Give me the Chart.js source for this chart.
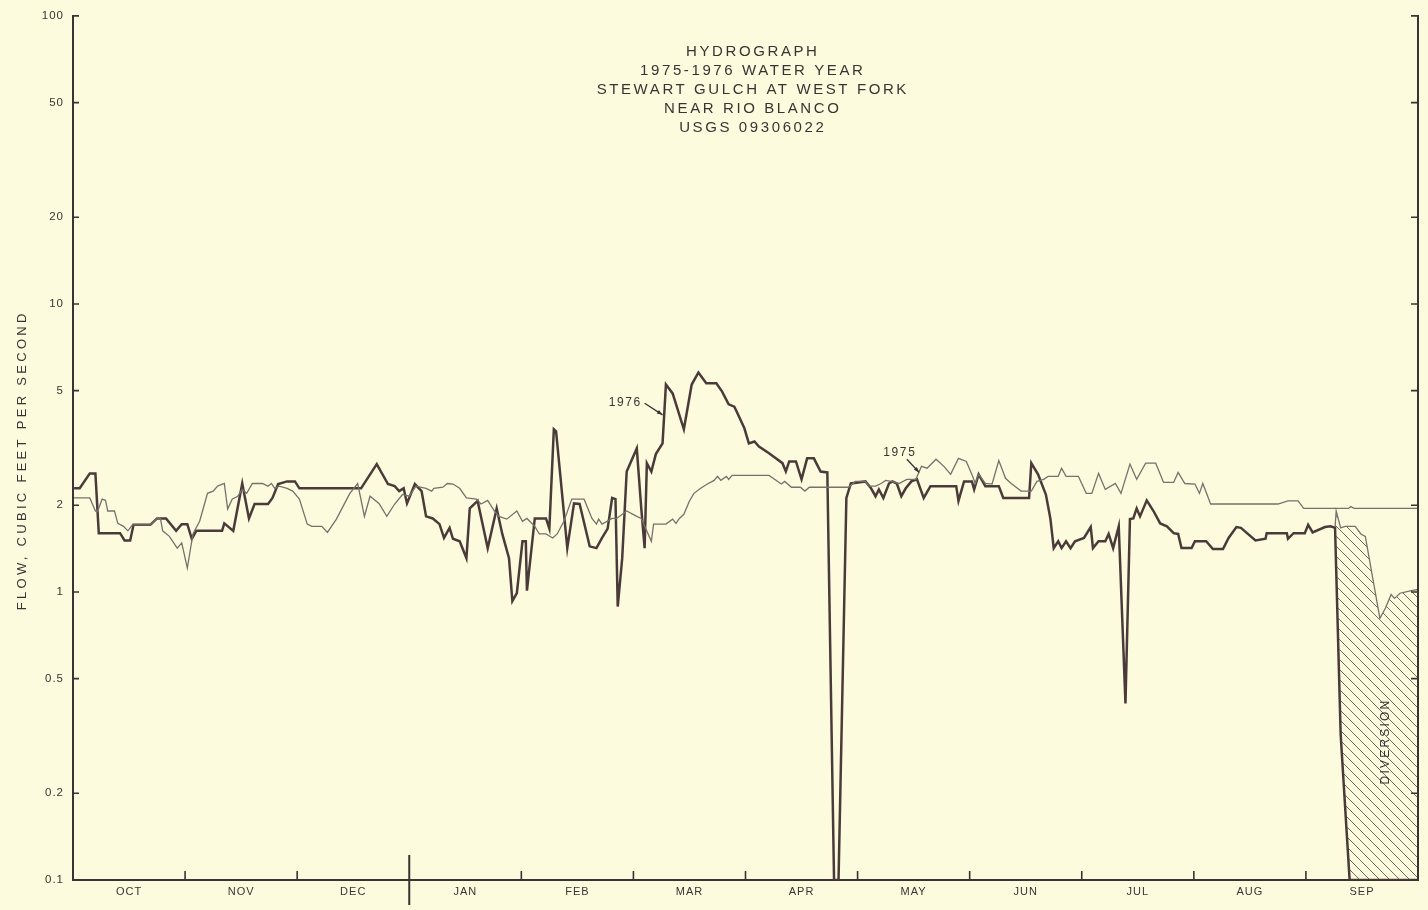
<!DOCTYPE html>
<html>

<head>
    <style>
        html, body { margin: 0; padding: 0; background: #fcfbdd; }
        #container { width: 1428px; height: 910px; }
    </style>
    <title>Hydrograph Stewart Gulch</title>
</head>

<body>
    <div id="container">
        <canvas id="canvas" width="1428" height="910"></canvas>
    </div>
    <script src="https://cdn.jsdelivr.net/npm/chart.js@4/dist/chart.umd.min.js"></script>
    <script type="text/javascript">
        // x is the position in the water year, in months from 1 October (months drawn equal width)
        var months = ['OCT', 'NOV', 'DEC', 'JAN', 'FEB', 'MAR', 'APR', 'MAY', 'JUN', 'JUL', 'AUG', 'SEP'];
        var yTicks = [0.1, 0.2, 0.5, 1, 2, 5, 10, 20, 50, 100];
        var titleLines = ['HYDROGRAPH', '1975-1976 WATER YEAR', 'STEWART GULCH AT WEST FORK', 'NEAR RIO BLANCO', 'USGS 09306022'];
        var yTitle = 'FLOW, CUBIC FEET PER SECOND';

        var flow1976 = [
            [0.01, 2.29], [0.06, 2.29], [0.15, 2.58], [0.20, 2.58], [0.23, 1.6], [0.42, 1.6], [0.46, 1.51], [0.51, 1.51],
            [0.54, 1.71], [0.69, 1.71], [0.75, 1.8], [0.83, 1.8], [0.92, 1.63], [0.97, 1.72], [1.02, 1.72], [1.06, 1.53],
            [1.10, 1.63], [1.33, 1.63], [1.35, 1.73], [1.43, 1.63], [1.51, 2.38], [1.57, 1.8], [1.62, 2.02], [1.74, 2.02],
            [1.78, 2.12], [1.83, 2.37], [1.91, 2.42], [1.98, 2.42], [2.02, 2.29], [2.57, 2.29], [2.71, 2.78], [2.81, 2.37],
            [2.87, 2.33], [2.91, 2.24], [2.95, 2.29], [2.98, 2.03], [3.05, 2.37], [3.11, 2.24], [3.15, 1.83], [3.21, 1.80],
            [3.27, 1.72], [3.31, 1.54], [3.36, 1.67], [3.39, 1.53], [3.45, 1.50], [3.51, 1.31], [3.54, 1.95], [3.61, 2.07],
            [3.70, 1.42], [3.78, 1.95], [3.83, 1.59], [3.89, 1.31], [3.92, 0.93], [3.96, 0.99], [4.01, 1.50], [4.04, 1.50],
            [4.05, 1.01], [4.12, 1.80], [4.22, 1.80], [4.25, 1.66], [4.29, 3.67], [4.31, 3.61], [4.41, 1.42], [4.47, 2.03],
            [4.52, 2.02], [4.61, 1.44], [4.67, 1.42], [4.72, 1.54], [4.77, 1.66], [4.81, 2.12], [4.84, 2.10], [4.86, 0.89],
            [4.90, 1.31], [4.94, 2.62], [5.03, 3.15], [5.07, 1.95], [5.10, 1.42], [5.12, 2.80], [5.16, 2.62], [5.20, 3.01],
            [5.26, 3.28], [5.29, 5.25], [5.35, 4.89], [5.45, 3.67], [5.52, 5.25], [5.58, 5.78], [5.65, 5.30], [5.74, 5.30],
            [5.79, 4.97], [5.85, 4.48], [5.90, 4.40], [5.92, 4.24], [5.99, 3.70], [6.03, 3.28], [6.08, 3.33], [6.12, 3.20],
            [6.21, 3.03], [6.33, 2.80], [6.36, 2.62], [6.39, 2.84], [6.45, 2.84], [6.50, 2.46], [6.55, 2.91], [6.61, 2.91],
            [6.67, 2.62], [6.73, 2.60], [6.79, 0.1], [6.83, 0.1], [6.90, 2.12], [6.94, 2.38], [7.07, 2.42], [7.12, 2.29],
            [7.16, 2.15], [7.19, 2.27], [7.23, 2.12], [7.28, 2.38], [7.31, 2.42], [7.35, 2.38], [7.39, 2.15], [7.43, 2.29],
            [7.48, 2.42], [7.53, 2.46], [7.59, 2.12], [7.65, 2.33], [7.88, 2.33], [7.90, 2.07], [7.95, 2.42], [8.02, 2.42],
            [8.04, 2.27], [8.08, 2.56], [8.14, 2.33], [8.26, 2.33], [8.30, 2.12], [8.53, 2.12], [8.55, 2.80], [8.61, 2.56],
            [8.68, 2.18], [8.72, 1.80], [8.75, 1.42], [8.79, 1.50], [8.82, 1.42], [8.86, 1.50], [8.90, 1.42], [8.94, 1.50],
            [9.02, 1.54], [9.08, 1.68], [9.10, 1.42], [9.15, 1.50], [9.21, 1.50], [9.24, 1.59], [9.28, 1.42], [9.33, 1.69],
            [9.39, 0.41], [9.43, 1.79], [9.46, 1.80], [9.49, 1.95], [9.52, 1.83], [9.58, 2.08], [9.64, 1.91], [9.70, 1.73],
            [9.76, 1.69], [9.82, 1.60], [9.86, 1.59], [9.89, 1.42], [9.98, 1.42], [10.01, 1.50], [10.11, 1.50], [10.17, 1.41],
            [10.26, 1.41], [10.31, 1.54], [10.38, 1.68], [10.42, 1.67], [10.55, 1.51], [10.64, 1.53], [10.65, 1.60], [10.83, 1.60],
            [10.84, 1.53], [10.89, 1.60], [10.99, 1.60], [11.02, 1.71], [11.06, 1.61], [11.17, 1.68], [11.22, 1.69], [11.26, 1.67],
            [11.31, 0.32], [11.39, 0.1], [12.0, 0.1]
        ];

        var flow1975 = [
            [0.01, 2.12], [0.15, 2.12], [0.20, 1.91], [0.22, 1.91], [0.26, 2.10], [0.29, 2.08], [0.31, 1.91], [0.37, 1.91],
            [0.40, 1.73], [0.45, 1.69], [0.49, 1.63], [0.53, 1.71], [0.69, 1.71], [0.75, 1.80], [0.78, 1.80], [0.80, 1.63],
            [0.86, 1.56], [0.93, 1.42], [0.97, 1.48], [1.02, 1.21], [1.07, 1.59], [1.13, 1.76], [1.20, 2.20], [1.25, 2.24],
            [1.29, 2.33], [1.35, 2.38], [1.38, 1.94], [1.42, 2.10], [1.47, 2.15], [1.51, 2.27], [1.55, 2.20], [1.60, 2.38],
            [1.69, 2.38], [1.74, 2.33], [1.77, 2.38], [1.80, 2.29], [1.84, 2.33], [1.91, 2.29], [1.96, 2.24], [2.02, 2.10],
            [2.09, 1.72], [2.13, 1.69], [2.22, 1.69], [2.27, 1.61], [2.35, 1.79], [2.47, 2.20], [2.54, 2.38], [2.60, 1.83],
            [2.65, 2.15], [2.73, 2.03], [2.80, 1.83], [2.87, 2.02], [2.94, 2.18], [3.00, 2.15], [3.06, 2.33], [3.15, 2.29],
            [3.20, 2.24], [3.22, 2.29], [3.30, 2.31], [3.34, 2.38], [3.39, 2.37], [3.45, 2.29], [3.51, 2.12], [3.60, 2.10],
            [3.64, 2.02], [3.70, 2.08], [3.76, 1.91], [3.80, 1.83], [3.87, 1.79], [3.96, 1.91], [4.01, 1.76], [4.05, 1.80],
            [4.12, 1.69], [4.16, 1.59], [4.22, 1.59], [4.28, 1.54], [4.32, 1.59], [4.38, 1.76], [4.45, 2.10], [4.56, 2.10],
            [4.63, 1.80], [4.67, 1.72], [4.69, 1.79], [4.72, 1.72], [4.81, 1.80], [4.85, 1.80], [4.94, 1.91], [5.03, 1.83],
            [5.07, 1.80], [5.16, 1.50], [5.18, 1.72], [5.29, 1.72], [5.35, 1.79], [5.38, 1.73], [5.41, 1.80], [5.45, 1.86],
            [5.50, 2.07], [5.54, 2.20], [5.60, 2.29], [5.66, 2.37], [5.72, 2.44], [5.75, 2.52], [5.78, 2.44], [5.83, 2.52],
            [5.85, 2.46], [5.88, 2.54], [6.21, 2.54], [6.32, 2.37], [6.35, 2.42], [6.41, 2.31], [6.49, 2.31], [6.53, 2.24],
            [6.57, 2.31], [6.92, 2.31], [6.98, 2.42], [7.07, 2.42], [7.10, 2.33], [7.16, 2.33], [7.21, 2.38], [7.25, 2.44],
            [7.30, 2.42], [7.37, 2.38], [7.44, 2.46], [7.52, 2.46], [7.57, 2.73], [7.62, 2.69], [7.70, 2.89], [7.77, 2.73],
            [7.83, 2.56], [7.90, 2.91], [7.97, 2.84], [8.02, 2.56], [8.05, 2.38], [8.08, 2.56], [8.14, 2.38], [8.20, 2.37],
            [8.26, 2.86], [8.32, 2.48], [8.37, 2.38], [8.46, 2.24], [8.55, 2.24], [8.60, 2.42], [8.66, 2.46], [8.70, 2.52],
            [8.79, 2.52], [8.82, 2.69], [8.86, 2.52], [8.97, 2.52], [9.04, 2.20], [9.09, 2.20], [9.15, 2.58], [9.21, 2.27],
            [9.30, 2.38], [9.35, 2.20], [9.43, 2.78], [9.49, 2.46], [9.57, 2.80], [9.66, 2.80], [9.73, 2.40], [9.82, 2.40],
            [9.86, 2.60], [9.92, 2.38], [10.01, 2.37], [10.05, 2.20], [10.08, 2.38], [10.15, 2.02], [10.75, 2.02], [10.84, 2.07],
            [10.93, 2.07], [10.98, 1.95], [11.38, 1.95], [11.40, 1.98], [11.43, 1.95], [12.0, 1.95]
        ];

        // 1976 flow before diversion (top edge of the hatched area)
        var natural1976 = [
            [11.26, 1.67], [11.27, 1.91], [11.31, 1.67], [11.35, 1.69], [11.44, 1.69], [11.49, 1.59], [11.53, 1.56],
            [11.66, 0.81], [11.71, 0.88], [11.76, 0.98], [11.79, 0.95], [11.84, 0.99], [11.94, 1.01], [12.0, 1.02]
        ];

        var notes = [
            { text: '1976', x: 4.92, y: 4.55, from: [5.10, 4.52], to: [5.26, 4.12] },
            { text: '1975', x: 7.37, y: 3.05, from: [7.44, 2.89], to: [7.55, 2.60] }
        ];

        var paper = '#fcfbdd';
        var ink = '#3b3333';
        var fontFam = '"Liberation Sans", Arial, sans-serif';

        function pts(a) {
            return a.map(function(p) { return { x: p[0], y: p[1] }; });
        }

        function hatch() {
            var p = document.createElement('canvas');
            p.width = 10; p.height = 10;
            var g = p.getContext('2d');
            g.strokeStyle = '#6f6a64';
            g.lineWidth = 1;
            g.beginPath();
            g.moveTo(0, 0); g.lineTo(10, 10);
            g.moveTo(-5, 5); g.lineTo(5, 15);
            g.moveTo(5, -5); g.lineTo(15, 5);
            g.stroke();
            return g.createPattern(p, 'repeat');
        }

        var divStart = natural1976[0][0];
        var diverted = flow1976.filter(function(p) { return p[0] >= divStart; });

        function spaced(c, txt, x, y, sp) {
            c.letterSpacing = sp + 'px';
            var w = c.measureText(txt).width;
            c.textAlign = 'left';
            c.fillText(txt, x - w / 2 + sp / 2, y);
        }

        var decor = {
            id: 'decor',
            beforeDraw: function(chart) {
                var c = chart.ctx;
                c.save();
                c.fillStyle = paper;
                c.fillRect(0, 0, chart.width, chart.height);
                c.restore();
                c.letterSpacing = '1px';
            },
            afterDraw: function(chart) {
                var c = chart.ctx, a = chart.chartArea, xs = chart.scales.x, ys = chart.scales.y;
                c.save();
                c.strokeStyle = ink;
                c.lineWidth = 2;
                c.beginPath();
                c.moveTo(a.right, a.top - 1);
                c.lineTo(a.right, a.bottom);
                c.stroke();
                c.lineWidth = 1.6;
                yTicks.forEach(function(v) {
                    var y = ys.getPixelForValue(v);
                    c.beginPath();
                    c.moveTo(a.left, y); c.lineTo(a.left + 6, y);
                    c.moveTo(a.right, y); c.lineTo(a.right - 7, y);
                    c.stroke();
                });
                for (var i = 1; i < 12; i++) {
                    var x = xs.getPixelForValue(i);
                    c.beginPath();
                    if (months[i] === 'JAN') {
                        c.lineWidth = 2;
                        c.moveTo(x, a.bottom - 25); c.lineTo(x, a.bottom + 25);
                    } else {
                        c.lineWidth = 1.6;
                        c.moveTo(x, a.bottom); c.lineTo(x, a.bottom - 9);
                    }
                    c.stroke();
                }

                c.fillStyle = ink;
                c.textBaseline = 'middle';
                c.font = '15px ' + fontFam;
                var cx = (a.left + a.right) / 2 + 6;
                titleLines.forEach(function(t, k) {
                    spaced(c, t, cx, 52 + 19 * k, 2.6);
                });

                c.font = '12px ' + fontFam;
                notes.forEach(function(n) {
                    spaced(c, n.text, xs.getPixelForValue(n.x), ys.getPixelForValue(n.y), 1.6);
                    var x0 = xs.getPixelForValue(n.from[0]), y0 = ys.getPixelForValue(n.from[1]);
                    var x1 = xs.getPixelForValue(n.to[0]), y1 = ys.getPixelForValue(n.to[1]);
                    c.lineWidth = 1.3;
                    c.beginPath(); c.moveTo(x0, y0); c.lineTo(x1, y1); c.stroke();
                    var ang = Math.atan2(y1 - y0, x1 - x0);
                    c.beginPath();
                    c.moveTo(x1, y1);
                    c.lineTo(x1 - 6 * Math.cos(ang - 0.35), y1 - 6 * Math.sin(ang - 0.35));
                    c.lineTo(x1 - 6 * Math.cos(ang + 0.35), y1 - 6 * Math.sin(ang + 0.35));
                    c.closePath(); c.fill();
                });

                c.save();
                c.translate(xs.getPixelForValue(11.71), ys.getPixelForValue(0.3));
                c.rotate(-Math.PI / 2);
                c.font = '12px ' + fontFam;
                spaced(c, 'DIVERSION', 0, 0, 2.2);
                c.restore();

                c.save();
                c.translate(22, (a.top + a.bottom) / 2 + 14);
                c.rotate(-Math.PI / 2);
                c.font = '13px ' + fontFam;
                spaced(c, yTitle, 0, 0, 3.3);
                c.restore();

                c.restore();
                c.letterSpacing = '0px';
            }
        };

        window.onload = function() {
            var ctx = document.getElementById('canvas').getContext('2d');
            window.hydro = new Chart(ctx, {
                type: 'line',
                data: {
                    datasets: [{
                        label: '1975',
                        data: pts(flow1975),
                        borderColor: '#77716c',
                        borderWidth: 1.3,
                        pointRadius: 0,
                        fill: false
                    }, {
                        label: '1976',
                        data: pts(flow1976),
                        borderColor: '#4b3a3a',
                        borderWidth: 2.5,
                        pointRadius: 0,
                        fill: false
                    }, {
                        label: 'diverted',
                        data: pts(diverted),
                        borderWidth: 0,
                        borderColor: 'rgba(0,0,0,0)',
                        pointRadius: 0,
                        fill: false
                    }, {
                        label: 'natural',
                        data: pts(natural1976),
                        borderColor: '#77716c',
                        borderWidth: 1.3,
                        pointRadius: 0,
                        backgroundColor: hatch(),
                        fill: { target: 2 }
                    }]
                },
                options: {
                    responsive: false,
                    animation: false,
                    devicePixelRatio: 1,
                    layout: { padding: { top: 13, right: 10, left: 0, bottom: 0 } },
                    plugins: {
                        legend: { display: false },
                        tooltip: { enabled: false },
                        title: { display: false }
                    },
                    scales: {
                        x: {
                            type: 'linear',
                            min: 0,
                            max: 12,
                            afterBuildTicks: function(s) {
                                s.ticks = months.map(function(m, i) { return { value: i + 0.5 }; });
                            },
                            afterFit: function(s) { s.height = 30; },
                            ticks: {
                                autoSkip: false,
                                maxRotation: 0,
                                padding: 5,
                                color: ink,
                                font: { family: fontFam, size: 11 },
                                callback: function(v, i) { return months[i]; }
                            },
                            grid: { display: false, drawTicks: false },
                            border: { display: true, color: ink, width: 2 }
                        },
                        y: {
                            type: 'logarithmic',
                            min: 0.1,
                            max: 100,
                            afterBuildTicks: function(s) {
                                s.ticks = yTicks.map(function(v) { return { value: v }; });
                            },
                            afterFit: function(s) { s.width = 73; },
                            ticks: {
                                autoSkip: false,
                                padding: 9,
                                color: ink,
                                font: { family: fontFam, size: 11.5 },
                                callback: function(v) { return String(v); }
                            },
                            grid: { display: false, drawTicks: false },
                            border: { display: true, color: ink, width: 2 }
                        }
                    }
                },
                plugins: [decor]
            });
        };
    </script>
</body>

</html>
